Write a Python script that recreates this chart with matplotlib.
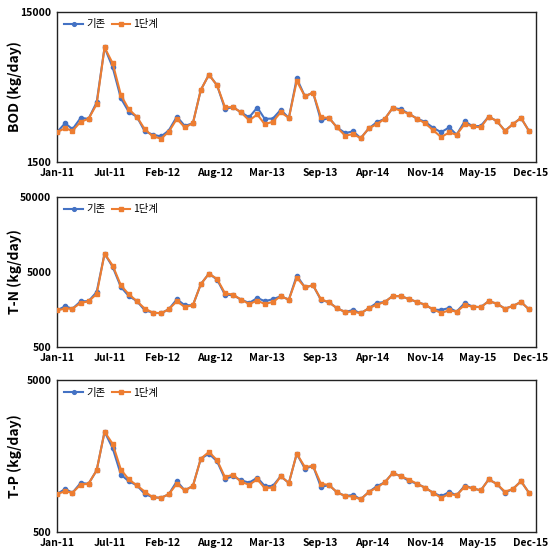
import numpy as np
import pandas as pd
import matplotlib
matplotlib.use("Agg")
import matplotlib.pyplot as plt
import matplotlib.dates as mdates

plt.rcParams['font.family'] = ['Noto Sans CJK KR', 'DejaVu Sans']

# monthly data, Jan-2011 .. Dec-2015 (kg/day)
months = pd.date_range('2011-01-01', periods=60, freq='MS')

bod_base = [2370, 2720, 2480, 2950, 2910, 3750, 8700, 6400, 3990, 3240,
            3000, 2400, 2280, 2220, 2430, 3010, 2610, 2720, 4530, 5730,
            4860, 3390, 3480, 3210, 2980, 3460, 2910, 2920, 3340, 2950,
            5410, 4110, 4350, 2840, 2950, 2550, 2340, 2400, 2160, 2510,
            2760, 2910, 3440, 3370, 3140, 2920, 2780, 2540, 2370, 2550,
            2280, 2810, 2590, 2610, 3010, 2810, 2420, 2680, 2950, 2420]
bod_step1 = [2370, 2520, 2420, 2780, 2910, 3640, 8700, 6810, 4200, 3370,
             3000, 2480, 2220, 2150, 2380, 2910, 2550, 2720, 4530, 5730,
             4860, 3480, 3480, 3210, 2840, 3110, 2680, 2780, 3220, 2950,
             5200, 4110, 4350, 2980, 2950, 2550, 2250, 2300, 2160, 2510,
             2680, 2910, 3440, 3290, 3140, 2920, 2720, 2450, 2200, 2360,
             2280, 2690, 2590, 2550, 3010, 2810, 2420, 2680, 2950, 2420]

tn_base = [1540, 1740, 1620, 2030, 2040, 2700, 8770, 5830, 3150, 2390,
           2040, 1540, 1435, 1405, 1590, 2160, 1800, 1800, 3430, 4750,
           3950, 2490, 2450, 2140, 1930, 2250, 2040, 2160, 2370, 2140,
           4470, 3120, 3320, 2120, 1970, 1640, 1465, 1556, 1405, 1640,
           1930, 1990, 2390, 2370, 2180, 1990, 1830, 1575, 1556, 1656,
           1480, 1930, 1725, 1700, 2040, 1890, 1620, 1760, 1990, 1590]
tn_step1 = [1540, 1620, 1620, 1930, 2030, 2540, 8770, 6070, 3320, 2520,
            2040, 1620, 1435, 1405, 1590, 2030, 1705, 1800, 3430, 4750,
            4030, 2600, 2490, 2140, 1870, 2075, 1870, 1990, 2370, 2140,
            4200, 3120, 3320, 2160, 1970, 1640, 1465, 1480, 1405, 1640,
            1830, 1990, 2390, 2370, 2180, 1990, 1830, 1590, 1420, 1540,
            1480, 1800, 1725, 1690, 2040, 1890, 1620, 1760, 1990, 1590]

tp_base = [890, 960, 908, 1052, 1040, 1275, 2290, 1780, 1195, 1080,
           1015, 890, 846, 840, 886, 1080, 940, 1005, 1520, 1640,
           1460, 1120, 1165, 1095, 1057, 1140, 1005, 1005, 1165, 1052,
           1640, 1308, 1362, 990, 1020, 913, 864, 877, 821, 917,
           1000, 1063, 1224, 1165, 1085, 1040, 980, 908, 860, 917,
           873, 1010, 970, 940, 1110, 1037, 908, 960, 1080, 908]
tp_step1 = [890, 927, 908, 1025, 1040, 1275, 2290, 1900, 1290, 1110,
            1015, 922, 846, 840, 886, 1040, 940, 1005, 1520, 1685,
            1485, 1150, 1195, 1070, 1025, 1110, 975, 980, 1165, 1052,
            1640, 1340, 1362, 1040, 1020, 913, 864, 855, 821, 917,
            980, 1063, 1224, 1165, 1107, 1040, 980, 908, 840, 890,
            873, 995, 970, 940, 1110, 1037, 922, 960, 1080, 908]

panels = [
    ('BOD (kg/day)', bod_base, bod_step1, (1500, 15000), [1500, 15000]),
    ('T-N (kg/day)', tn_base, tn_step1, (500, 50000), [500, 5000, 50000]),
    ('T-P (kg/day)', tp_base, tp_step1, (500, 5000), [500, 5000]),
]
labels = ['기존', '1단계']
blue = '#4472C4'
orange = '#ED7D31'

# x tick positions every 200 days from Jan-11 (Excel date axis)
xticks = pd.date_range('2011-01-01', periods=10, freq='200D')

fig = plt.figure(figsize=(5.57, 5.60), dpi=100)
boxes = [[0.1023, 0.7107, 0.860, 0.268],
         [0.1023, 0.3804, 0.860, 0.268],
         [0.1023, 0.0500, 0.860, 0.271]]

for box, (ylab, base, step1, ylim, yticks) in zip(boxes, panels):
    ax = fig.add_axes(box)
    ax.plot(months, base, color=blue, lw=1.5, marker='o', ms=3.0, label=labels[0], zorder=2)
    ax.plot(months, step1, color=orange, lw=1.5, marker='s', ms=3.2, label=labels[1], zorder=3)
    ax.set_yscale('log')
    ax.set_ylim(*ylim)
    ax.set_yticks(yticks)
    ax.set_yticklabels([str(t) for t in yticks])
    ax.yaxis.set_minor_locator(matplotlib.ticker.NullLocator())
    ax.set_xlim(pd.Timestamp('2011-01-01'), pd.Timestamp('2015-12-28'))
    ax.set_xticks(xticks)
    ax.xaxis.set_major_formatter(mdates.DateFormatter('%b-%y'))
    ax.tick_params(length=0, labelsize=7.5, pad=4)
    for t in ax.get_xticklabels() + ax.get_yticklabels():
        t.set_fontweight('bold')
    ax.set_ylabel(ylab, fontsize=10, fontweight='bold')
    ax.yaxis.set_label_coords(-0.072, 0.5)
    for s in ax.spines.values():
        s.set_color('#222222')
        s.set_linewidth(1.0)
    ax.legend(loc='upper left', frameon=False, fontsize=7.5, handlelength=1.8,
              ncol=2, columnspacing=0.6, handletextpad=0.3, markerscale=0.9,
              borderaxespad=0.3, bbox_to_anchor=(0.0, 1.0))

fig.savefig('out.png', dpi=100)
